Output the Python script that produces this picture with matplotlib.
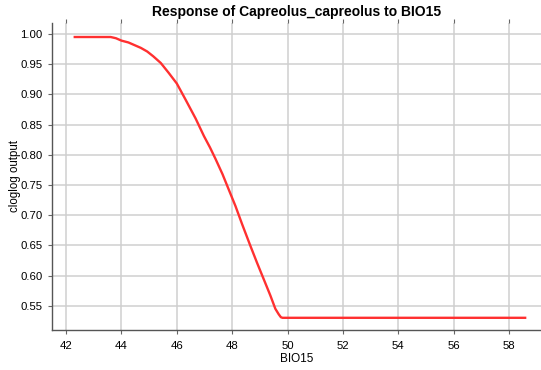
import matplotlib
matplotlib.use("Agg")
import matplotlib.pyplot as plt

# response curve
bio15 = [42.27, 43.24, 43.61, 43.8, 44.0, 44.25, 44.45, 44.7, 44.93, 45.15, 45.42,
         45.7, 46.0, 46.32, 46.68, 46.98, 47.2, 47.4, 47.65, 47.88, 48.12, 48.36, 48.66,
         48.9, 49.14, 49.38, 49.56, 49.68, 49.76, 49.82, 50.0, 58.63]
cloglog = [0.995, 0.995, 0.995, 0.993, 0.989, 0.986, 0.982, 0.977, 0.971, 0.963, 0.952,
           0.936, 0.918, 0.891, 0.86, 0.831, 0.812, 0.793, 0.768, 0.742, 0.715, 0.685, 0.649,
           0.621, 0.594, 0.567, 0.545, 0.536, 0.531, 0.530, 0.530, 0.530]

xticks = [42, 44, 46, 48, 50, 52, 54, 56, 58]
yticks = [0.55, 0.60, 0.65, 0.70, 0.75, 0.80, 0.85, 0.90, 0.95, 1.00]

plt.rcParams["font.family"] = ["Liberation Sans", "DejaVu Sans"]

fig = plt.figure(figsize=(5.41, 3.70), dpi=100)
ax = fig.add_axes([52 / 541, 1 - 330 / 370, 1 - 52 / 541, (330 - 22.7) / 370])

ax.plot(bio15, cloglog, color="#ff3030", lw=1.7, solid_capstyle="butt")

ax.set_xlim(41.49, 59.16)
ax.set_ylim(0.5098, 1.0187)
ax.set_xticks(xticks)
ax.set_xticklabels([str(t) for t in xticks])
ax.set_yticks(yticks)
ax.set_yticklabels(["%.2f" % t for t in yticks])

ax.grid(True, color="#cfcfcf", lw=1.1)
ax.set_axisbelow(True)
for side in ("top", "right"):
    ax.spines[side].set_visible(False)
for side in ("left", "bottom"):
    ax.spines[side].set_color("#555555")
    ax.spines[side].set_linewidth(1.0)
ax.tick_params(axis="both", labelsize=8.2, length=3, color="#666666", pad=4)
ax.tick_params(axis="x", top=True, labeltop=False)
ax.tick_params(axis="x", which="major", pad=5)

ax.set_title("Response of Capreolus_capreolus to BIO15", fontsize=10,
             fontweight="bold", pad=5)
ax.set_xlabel("BIO15", fontsize=8.5, labelpad=1)
ax.set_ylabel("cloglog output", fontsize=8.3)
ax.yaxis.set_label_coords(-0.064, 0.5)

fig.savefig("out.png", dpi=100)
